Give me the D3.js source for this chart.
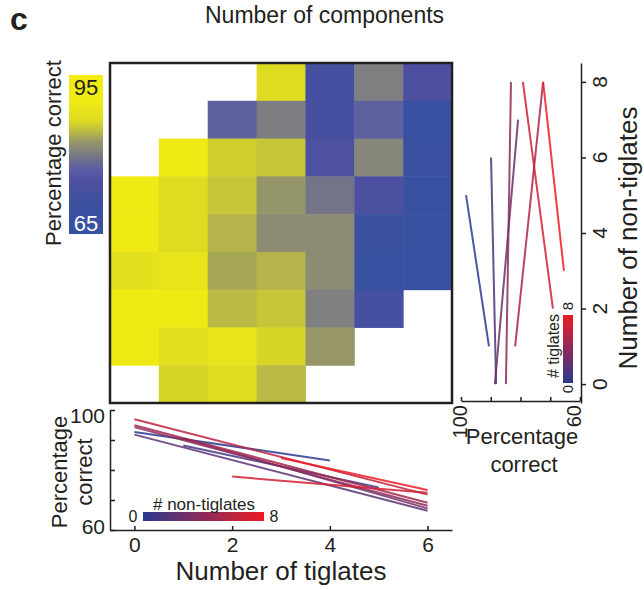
<!DOCTYPE html>
<html>
<head>
<meta charset="utf-8">
<script src="https://cdn.jsdelivr.net/npm/d3@7/dist/d3.min.js"></script>
<style>
  html, body { margin: 0; padding: 0; background: #fff; }
  svg { display: block; font-family: "Liberation Sans", Arial, Helvetica, sans-serif; }
  text { fill: #231f20; }
</style>
</head>
<body>
<div id="chart"></div>
<script>
// --- données ---
const tiglates = [0, 1, 2, 3, 4, 5, 6];
const nonTiglates = [0, 1, 2, 3, 4, 5, 6, 7, 8];

// pourcentage correct, une ligne par nombre de non-tiglates (8 en haut -> 0 en bas), null = case vide
const heatRows = [
  { nt: 8, values: [null, null, null, 86.5, 73, 80.4, 74.8] },
  { nt: 7, values: [null, null, 77.5, 80.3, 73.5, 77.5, 67] },
  { nt: 6, values: [null, 91, 85.6, 85, 75, 81, 69] },
  { nt: 5, values: [91, 86.5, 85, 82.3, 79.5, 74.5, 67.5] },
  { nt: 4, values: [91, 86.5, 84, 81.5, 81.5, 70, 68] },
  { nt: 3, values: [87.5, 88.5, 83.3, 84, 81.5, 67, 68] },
  { nt: 2, values: [91, 91, 84.3, 85, 80.5, 73, null] },
  { nt: 1, values: [91, 87.5, 88.5, 86, 82.4, null, null] },
  { nt: 0, values: [null, 86, 86.5, 84.3, null, null, null] }
];

// palette de la barre de couleur (valeur -> couleur)
const cmapValues = [65, 70, 73, 75, 77, 79, 80.5, 82.5, 84.5, 86.5, 90, 95];
const cmapColors = ["#3552a0", "#3c50a0", "#4550a0", "#4e50a0", "#5a5ca5", "#6e6e8c",
                    "#808080", "#979768", "#bebe40", "#dedc20", "#f0ea15", "#f2ec12"];

// droites du panneau bas : % correct selon le nombre de tiglates, par nombre de non-tiglates
const bottomLines = [
  { nt: 0, t0: 0, p0: 92.7, t1: 4, p1: 83.2 },
  { nt: 1, t0: 1, p0: 88.2, t1: 5, p1: 74.2 },
  { nt: 2, t0: 0, p0: 91.8, t1: 6, p1: 66.4 },
  { nt: 3, t0: 1, p0: 90.5, t1: 6, p1: 67.2 },
  { nt: 4, t0: 0, p0: 94.3, t1: 6, p1: 68.1 },
  { nt: 5, t0: 0, p0: 94.9, t1: 6, p1: 69.1 },
  { nt: 6, t0: 0, p0: 96.9, t1: 6, p1: 71.8 },
  { nt: 7, t0: 2, p0: 77.8, t1: 6, p1: 72.4 },
  { nt: 8, t0: 3, p0: 84.0, t1: 6, p1: 73.3 }
];

// droites du panneau droit : % correct selon le nombre de non-tiglates, par nombre de tiglates
const rightLines = [
  { t: 0, n0: 5, p0: 98.3, n1: 1, p1: 90.6 },
  { t: 1, n0: 6, p0: 89.9, n1: 0, p1: 88.2 },
  { t: 2, n0: 0, p0: 88.6, n1: 7, p1: 80.8 },
  { t: 3, n0: 0, p0: 84.9, n1: 8, p1: 83.2 },
  { t: 4, n0: 1, p0: 81.8, n1: 8, p1: 72.4 },
  { t: 5, n0: 8, p0: 79.2, n1: 2, p1: 69.1 },
  { t: 6, n0: 8, p0: 72.4, n1: 3, p1: 65.4 }
];

const pctTicks = [60, 70, 80, 90, 100];
const tigTicks = [0, 2, 4, 6];
const ntTicks = [0, 2, 4, 6, 8];

// --- rendu ---
const W = 644, H = 589;
const INK = "#231f20";
const BLUE = "#2b3990", RED = "#ed1c24";

const svg = d3.select("#chart").append("svg")
    .attr("width", W).attr("height", H);
const defs = svg.append("defs");

const cmap = d3.scaleLinear().domain(cmapValues).range(cmapColors).clamp(true);
const blueRed = d3.interpolateRgb(BLUE, RED);

// heatmap
const hx = d3.scaleBand().domain(tiglates).range([110, 452]);
const hy = d3.scaleBand().domain(nonTiglates.slice().reverse()).range([63, 403]);

const cells = [];
heatRows.forEach(r => r.values.forEach((v, i) => {
    if (v !== null) cells.push({ t: tiglates[i], nt: r.nt, v });
}));

svg.append("g").selectAll("rect").data(cells).join("rect")
    .attr("x", d => hx(d.t)).attr("y", d => hy(d.nt))
    .attr("width", hx.bandwidth() + 0.5).attr("height", hy.bandwidth() + 0.5)
    .attr("fill", d => cmap(d.v));

svg.append("rect")
    .attr("x", 110).attr("y", 63).attr("width", 342).attr("height", 340)
    .attr("fill", "none").attr("stroke", INK).attr("stroke-width", 2.5);

svg.append("text").attr("x", 10).attr("y", 30)
    .style("font-size", "32px").style("font-weight", "bold").text("c");
svg.append("text").attr("x", 205).attr("y", 23)
    .style("font-size", "23px").text("Number of components");

// barre de couleur
const cbTop = 75, cbBot = 234;
const grad = defs.append("linearGradient").attr("id", "cbar")
    .attr("x1", 0).attr("y1", 1).attr("x2", 0).attr("y2", 0);
grad.selectAll("stop").data(cmapValues).join("stop")
    .attr("offset", v => (v - 65) / 30)
    .attr("stop-color", v => cmap(v));
svg.append("rect").attr("x", 69).attr("y", cbTop).attr("width", 34).attr("height", cbBot - cbTop)
    .attr("fill", "url(#cbar)");
svg.append("text").attr("x", 86).attr("y", 95).attr("text-anchor", "middle")
    .style("font-size", "22px").text("95");
svg.append("text").attr("x", 86).attr("y", 231).attr("text-anchor", "middle")
    .style("font-size", "22px").style("fill", "#fff").text("65");
svg.append("text").attr("transform", "translate(61,153) rotate(-90)")
    .attr("text-anchor", "middle").style("font-size", "22px").text("Percentage correct");

// panneau bas
const bx = d3.scaleLinear().domain([-0.5, 6.5]).range([110, 452]);
const by = d3.scaleLinear().domain([60, 100]).range([530, 410]);

svg.append("g").selectAll("line").data(bottomLines).join("line")
    .attr("x1", d => bx(d.t0)).attr("y1", d => by(d.p0))
    .attr("x2", d => bx(d.t1)).attr("y2", d => by(d.p1))
    .attr("stroke", d => blueRed(d.nt / 8)).attr("stroke-width", 2)
    .attr("stroke-opacity", 0.85);

const axL = svg.append("g").attr("transform", "translate(110,0)")
    .call(d3.axisLeft(by).tickValues(pctTicks).tickSize(-5).tickSizeOuter(0).tickPadding(5)
        .tickFormat(d => (d === 60 || d === 100) ? d : ""));
axL.selectAll("text").attr("dy", d => d === 100 ? "0.6em" : "0.15em");

const axB = svg.append("g").attr("transform", "translate(0,530)")
    .call(d3.axisBottom(bx).tickValues(tigTicks).tickSize(-4).tickSizeOuter(0).tickPadding(7)
        .tickFormat(d3.format("d")));

[axL, axB].forEach(a => {
    a.attr("font-size", null).attr("font-family", null);
    a.selectAll("path, line").attr("stroke", INK).attr("stroke-width", 1.5);
    a.selectAll("text").style("fill", INK).style("font-size", "21px");
});

svg.append("text").attr("transform", "translate(67,472) rotate(-90)")
    .attr("text-anchor", "middle").style("font-size", "22px").text("Percentage");
svg.append("text").attr("transform", "translate(92,472) rotate(-90)")
    .attr("text-anchor", "middle").style("font-size", "22px").text("correct");
svg.append("text").attr("x", 281).attr("y", 580).attr("text-anchor", "middle")
    .style("font-size", "26px").text("Number of tiglates");

// légende bas
const gradB = defs.append("linearGradient").attr("id", "legB")
    .attr("x1", 0).attr("y1", 0).attr("x2", 1).attr("y2", 0);
gradB.selectAll("stop").data([0, 1]).join("stop")
    .attr("offset", d => d).attr("stop-color", d => blueRed(d));
svg.append("rect").attr("x", 143).attr("y", 512).attr("width", 121).attr("height", 9)
    .attr("fill", "url(#legB)");
svg.append("text").attr("x", 133).attr("y", 522).attr("text-anchor", "middle")
    .style("font-size", "16px").text("0");
svg.append("text").attr("x", 274).attr("y", 522).attr("text-anchor", "middle")
    .style("font-size", "16px").text("8");
svg.append("text").attr("x", 204).attr("y", 510).attr("text-anchor", "middle")
    .style("font-size", "17px").text("# non-tiglates");

// panneau droit
const rx = d3.scaleLinear().domain([100, 60]).range([461, 580]);
const ry = d3.scaleLinear().domain([-0.5, 8.5]).range([403, 63]);
const tigColor = d3.scaleLinear().domain([0, 6]).range([0, 1]);

svg.append("g").selectAll("line").data(rightLines).join("line")
    .attr("x1", d => rx(d.p0)).attr("y1", d => ry(d.n0))
    .attr("x2", d => rx(d.p1)).attr("y2", d => ry(d.n1))
    .attr("stroke", d => blueRed(tigColor(d.t))).attr("stroke-width", 2)
    .attr("stroke-opacity", 0.85);

const axRB = svg.append("g").attr("transform", "translate(0,401)")
    .call(d3.axisBottom(rx).tickValues(pctTicks).tickSize(-4).tickSizeOuter(0).tickFormat(""));
const axRR = svg.append("g").attr("transform", "translate(581,0)")
    .call(d3.axisRight(ry).tickValues(ntTicks).tickSize(5).tickSizeOuter(0).tickFormat(""));
[axRB, axRR].forEach(a => a.selectAll("path, line").attr("stroke", INK).attr("stroke-width", 1.5));

[100, 60].forEach(p => {
    svg.append("text")
        .attr("transform", `translate(${rx(p) + (p === 100 ? 6 : 1)},405) rotate(-90)`)
        .attr("text-anchor", "end").style("font-size", "20px").text(p);
});
ntTicks.forEach(n => {
    svg.append("text").attr("transform", `translate(607,${ry(n)}) rotate(-90)`)
        .attr("text-anchor", "middle").style("font-size", "21px").text(n);
});
svg.append("text").attr("x", 522).attr("y", 444).attr("text-anchor", "middle")
    .style("font-size", "22px").text("Percentage");
svg.append("text").attr("x", 524).attr("y", 472).attr("text-anchor", "middle")
    .style("font-size", "22px").text("correct");
svg.append("text").attr("transform", "translate(637,238) rotate(-90)")
    .attr("text-anchor", "middle").style("font-size", "26px").text("Number of non-tiglates");

// légende droite
const gradR = defs.append("linearGradient").attr("id", "legR")
    .attr("x1", 0).attr("y1", 1).attr("x2", 0).attr("y2", 0);
gradR.selectAll("stop").data([0, 1]).join("stop")
    .attr("offset", d => d).attr("stop-color", d => blueRed(d));
svg.append("rect").attr("x", 563).attr("y", 315).attr("width", 10).attr("height", 68)
    .attr("fill", "url(#legR)");
svg.append("text").attr("transform", "translate(573,306) rotate(-90)")
    .attr("text-anchor", "middle").style("font-size", "15px").text("8");
svg.append("text").attr("transform", "translate(573,389) rotate(-90)")
    .attr("text-anchor", "middle").style("font-size", "15px").text("0");
svg.append("text").attr("transform", "translate(559,346) rotate(-90)")
    .attr("text-anchor", "middle").style("font-size", "16px").text("# tiglates");
</script>
</body>
</html>
